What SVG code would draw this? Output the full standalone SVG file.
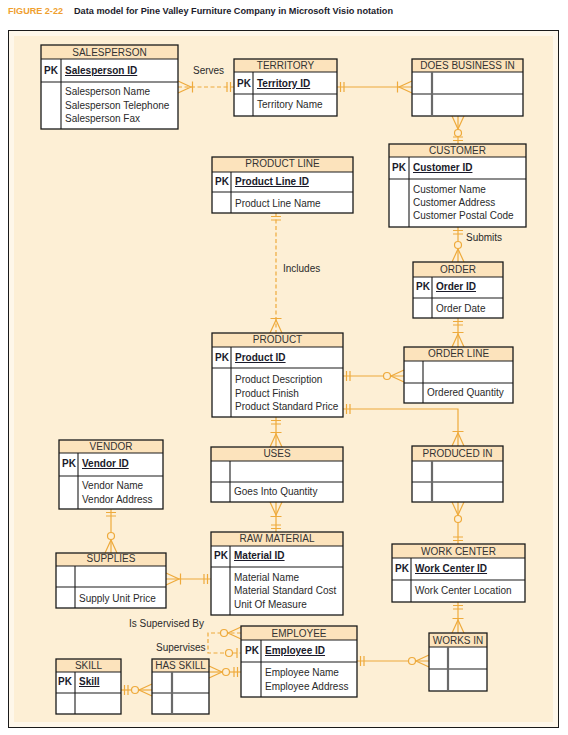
<svg xmlns="http://www.w3.org/2000/svg" width="568" height="735" viewBox="0 0 568 735">
<style>
.hd{fill:#FCE3BC}
.bd{fill:#ffffff}
.bx{fill:none;stroke:#1a1a1a;stroke-width:1.3}
.ln{stroke:#1a1a1a;stroke-width:1.1}
.gl{stroke:#6a6a6a;stroke-width:2.2}
.t{font-family:"Liberation Sans",Arial,sans-serif;font-size:10px;fill:#2a2a2a}
.h{text-anchor:middle;fill:#333}
.b{font-weight:bold;fill:#1a1a2a}
.u{text-decoration:underline}
.c{fill:none;stroke:#EEAA3C;stroke-width:1.2}
.d{stroke-dasharray:4 2.5}
.m{fill:none;stroke:#EEAA3C;stroke-width:1.2}
.mc{fill:#FDEFD5;stroke:#EEAA3C;stroke-width:1.2}
</style>
<defs>
<marker id="one2" markerUnits="userSpaceOnUse" orient="auto-start-reverse" refX="0" refY="0" markerWidth="1" markerHeight="1" overflow="visible">
<path class="m" d="M-3.5,-5V5M-7,-5V5"/>
</marker>
<marker id="many1" markerUnits="userSpaceOnUse" orient="auto-start-reverse" refX="0" refY="0" markerWidth="1" markerHeight="1" overflow="visible">
<path class="m" d="M0,-6L-13,0L0,6M-14.5,-5.5V5.5"/>
</marker>
<marker id="many0" markerUnits="userSpaceOnUse" orient="auto-start-reverse" refX="0" refY="0" markerWidth="1" markerHeight="1" overflow="visible">
<path class="m" d="M0,-6L-13,0L0,6"/>
<circle class="mc" cx="-17" cy="0" r="3.5"/>
</marker>
<marker id="one0" markerUnits="userSpaceOnUse" orient="auto-start-reverse" refX="0" refY="0" markerWidth="1" markerHeight="1" overflow="visible">
<path class="m" d="M-4,-5V5"/>
<circle class="mc" cx="-12" cy="0" r="3.5"/>
</marker>
</defs>
<rect x="0" y="0" width="568" height="735" fill="#ffffff"/>
<g id="title">
<text x="8" y="14" font-family="'Liberation Sans',Arial,sans-serif" font-size="8.6" font-weight="bold" fill="#EFA030" textLength="55" lengthAdjust="spacingAndGlyphs">FIGURE 2-22</text>
<text x="74" y="14" font-family="'Liberation Sans',Arial,sans-serif" font-size="8.6" font-weight="bold" fill="#1c1c2c" textLength="319" lengthAdjust="spacingAndGlyphs">Data model for Pine Valley Furniture Company in Microsoft Visio notation</text>
</g>
<rect x="8.5" y="30.5" width="550" height="697" fill="#FEF7EA" stroke="#1a1a1a" stroke-width="1"/>
<rect x="14" y="36" width="539" height="686" fill="#FDEFD5"/>

<g id="connectors">
<path class="c d" d="M178,87H234" marker-start="url(#many1)" marker-end="url(#one2)"/>
<path class="c" d="M337,87H412" marker-start="url(#one2)" marker-end="url(#many1)"/>
<path class="c" d="M458,116V144" marker-start="url(#many0)" marker-end="url(#one2)"/>
<path class="c" d="M458,227V262" marker-start="url(#one2)" marker-end="url(#many0)"/>
<path class="c d" d="M276,213V333" marker-start="url(#one2)" marker-end="url(#many1)"/>
<path class="c" d="M458,318V347" marker-start="url(#one2)" marker-end="url(#many1)"/>
<path class="c" d="M343,376H404" marker-start="url(#one2)" marker-end="url(#many0)"/>
<path class="c" d="M343,409H458V446" marker-start="url(#one2)" marker-end="url(#many1)"/>
<path class="c" d="M276,417V447" marker-start="url(#one2)" marker-end="url(#many1)"/>
<path class="c" d="M276,502V532" marker-start="url(#many1)" marker-end="url(#one2)"/>
<path class="c" d="M111,509V553" marker-start="url(#one2)" marker-end="url(#many0)"/>
<path class="c" d="M166,579H211" marker-start="url(#many1)" marker-end="url(#one2)"/>
<path class="c" d="M458,502V544" marker-start="url(#many0)" marker-end="url(#one2)"/>
<path class="c" d="M458,602V633" marker-start="url(#one2)" marker-end="url(#many1)"/>
<path class="c" d="M357,661H429" marker-start="url(#one2)" marker-end="url(#many0)"/>
<path class="c d" d="M241,633H208V653H241" marker-start="url(#many0)" marker-end="url(#one0)"/>
<path class="c" d="M209,672H241" marker-start="url(#many0)" marker-end="url(#one2)"/>
<path class="c" d="M121,690H152" marker-start="url(#one2)" marker-end="url(#many0)"/>
<text class="t" x="193" y="74">Serves</text>
<text class="t" x="466" y="241">Submits</text>
<text class="t" x="283" y="272">Includes</text>
<text class="t" x="129" y="627">Is Supervised By</text>
<text class="t" x="156" y="651">Supervises</text>
</g>

<g id="salesperson">
<rect class="hd" x="41" y="45" width="137" height="14"/>
<rect class="bd" x="41" y="59" width="137" height="70"/>
<rect class="bx" x="41" y="45" width="137" height="84"/>
<line class="ln" x1="41" y1="59" x2="178" y2="59"/>
<line class="ln" x1="41" y1="82" x2="178" y2="82"/>
<line class="ln" x1="61" y1="59" x2="61" y2="129"/>
<text class="t h" x="109.5" y="56">SALESPERSON</text>
<text class="t b" x="44" y="74">PK</text>
<text class="t b u" x="65" y="74">Salesperson ID</text>
<text class="t" x="65" y="95">Salesperson Name</text>
<text class="t" x="65" y="108.5">Salesperson Telephone</text>
<text class="t" x="65" y="122">Salesperson Fax</text>
</g>

<g id="territory">
<rect class="hd" x="234" y="59" width="103" height="13"/>
<rect class="bd" x="234" y="72" width="103" height="44"/>
<rect class="bx" x="234" y="59" width="103" height="57"/>
<line class="ln" x1="234" y1="72" x2="337" y2="72"/>
<line class="ln" x1="234" y1="94" x2="337" y2="94"/>
<line class="ln" x1="253" y1="72" x2="253" y2="116"/>
<text class="t h" x="285.5" y="69">TERRITORY</text>
<text class="t b" x="237" y="87">PK</text>
<text class="t b u" x="257" y="87">Territory ID</text>
<text class="t" x="257" y="108">Territory Name</text>
</g>

<g id="does-business-in">
<rect class="hd" x="412" y="59" width="111" height="13"/>
<rect class="bd" x="412" y="72" width="111" height="44"/>
<rect class="bx" x="412" y="59" width="111" height="57"/>
<line class="ln" x1="412" y1="72" x2="523" y2="72"/>
<line class="ln" x1="412" y1="94" x2="523" y2="94"/>
<line class="gl" x1="432" y1="72" x2="432" y2="116"/>
<text class="t h" x="467.5" y="69">DOES BUSINESS IN</text>
</g>

<g id="customer">
<rect class="hd" x="389" y="144" width="137" height="13"/>
<rect class="bd" x="389" y="157" width="137" height="70"/>
<rect class="bx" x="389" y="144" width="137" height="83"/>
<line class="ln" x1="389" y1="157" x2="526" y2="157"/>
<line class="ln" x1="389" y1="179" x2="526" y2="179"/>
<line class="ln" x1="409" y1="157" x2="409" y2="227"/>
<text class="t h" x="457.5" y="154">CUSTOMER</text>
<text class="t b" x="392" y="171">PK</text>
<text class="t b u" x="413" y="171">Customer ID</text>
<text class="t" x="413" y="193">Customer Name</text>
<text class="t" x="413" y="206">Customer Address</text>
<text class="t" x="413" y="219">Customer Postal Code</text>
</g>

<g id="product-line">
<rect class="hd" x="212" y="157" width="141" height="15"/>
<rect class="bd" x="212" y="172" width="141" height="41"/>
<rect class="bx" x="212" y="157" width="141" height="56"/>
<line class="ln" x1="212" y1="172" x2="353" y2="172"/>
<line class="ln" x1="212" y1="192" x2="353" y2="192"/>
<line class="ln" x1="231" y1="172" x2="231" y2="213"/>
<text class="t h" x="282.5" y="167">PRODUCT LINE</text>
<text class="t b" x="215" y="185">PK</text>
<text class="t b u" x="235" y="185">Product Line ID</text>
<text class="t" x="235" y="207">Product Line Name</text>
</g>

<g id="order">
<rect class="hd" x="413" y="262" width="90" height="15"/>
<rect class="bd" x="413" y="277" width="90" height="41"/>
<rect class="bx" x="413" y="262" width="90" height="56"/>
<line class="ln" x1="413" y1="277" x2="503" y2="277"/>
<line class="ln" x1="413" y1="298" x2="503" y2="298"/>
<line class="ln" x1="432" y1="277" x2="432" y2="318"/>
<text class="t h" x="458" y="273">ORDER</text>
<text class="t b" x="416" y="290">PK</text>
<text class="t b u" x="436" y="290">Order ID</text>
<text class="t" x="436" y="312">Order Date</text>
</g>

<g id="product">
<rect class="hd" x="212" y="333" width="131" height="14"/>
<rect class="bd" x="212" y="347" width="131" height="70"/>
<rect class="bx" x="212" y="333" width="131" height="84"/>
<line class="ln" x1="212" y1="347" x2="343" y2="347"/>
<line class="ln" x1="212" y1="368" x2="343" y2="368"/>
<line class="ln" x1="231" y1="347" x2="231" y2="417"/>
<text class="t h" x="277.5" y="343">PRODUCT</text>
<text class="t b" x="215" y="361">PK</text>
<text class="t b u" x="235" y="361">Product ID</text>
<text class="t" x="235" y="383">Product Description</text>
<text class="t" x="235" y="397">Product Finish</text>
<text class="t" x="235" y="410">Product Standard Price</text>
</g>

<g id="order-line">
<rect class="hd" x="404" y="347" width="109" height="14"/>
<rect class="bd" x="404" y="361" width="109" height="42"/>
<rect class="bx" x="404" y="347" width="109" height="56"/>
<line class="ln" x1="404" y1="361" x2="513" y2="361"/>
<line class="ln" x1="404" y1="383" x2="513" y2="383"/>
<line class="ln" x1="423" y1="361" x2="423" y2="403"/>
<text class="t h" x="458.5" y="357">ORDER LINE</text>
<text class="t" x="427" y="396">Ordered Quantity</text>
</g>

<g id="vendor">
<rect class="hd" x="59" y="440" width="104" height="13"/>
<rect class="bd" x="59" y="453" width="104" height="56"/>
<rect class="bx" x="59" y="440" width="104" height="69"/>
<line class="ln" x1="59" y1="453" x2="163" y2="453"/>
<line class="ln" x1="59" y1="476" x2="163" y2="476"/>
<line class="ln" x1="78" y1="453" x2="78" y2="509"/>
<text class="t h" x="111" y="450">VENDOR</text>
<text class="t b" x="62" y="467">PK</text>
<text class="t b u" x="82" y="467">Vendor ID</text>
<text class="t" x="82" y="489">Vendor Name</text>
<text class="t" x="82" y="503">Vendor Address</text>
</g>

<g id="uses">
<rect class="hd" x="211" y="447" width="132" height="14"/>
<rect class="bd" x="211" y="461" width="132" height="41"/>
<rect class="bx" x="211" y="447" width="132" height="55"/>
<line class="ln" x1="211" y1="461" x2="343" y2="461"/>
<line class="ln" x1="211" y1="482" x2="343" y2="482"/>
<line class="ln" x1="230" y1="461" x2="230" y2="502"/>
<text class="t h" x="277" y="457">USES</text>
<text class="t" x="234" y="495">Goes Into Quantity</text>
</g>

<g id="produced-in">
<rect class="hd" x="412" y="446" width="91" height="15"/>
<rect class="bd" x="412" y="461" width="91" height="41"/>
<rect class="bx" x="412" y="446" width="91" height="56"/>
<line class="ln" x1="412" y1="461" x2="503" y2="461"/>
<line class="ln" x1="412" y1="482" x2="503" y2="482"/>
<line class="gl" x1="432" y1="461" x2="432" y2="502"/>
<text class="t h" x="457.5" y="457">PRODUCED IN</text>
</g>

<g id="supplies">
<rect class="hd" x="56" y="553" width="110" height="13"/>
<rect class="bd" x="56" y="566" width="110" height="42"/>
<rect class="bx" x="56" y="553" width="110" height="55"/>
<line class="ln" x1="56" y1="566" x2="166" y2="566"/>
<line class="ln" x1="56" y1="587" x2="166" y2="587"/>
<line class="ln" x1="75" y1="566" x2="75" y2="608"/>
<text class="t h" x="111" y="562">SUPPLIES</text>
<text class="t" x="79" y="602">Supply Unit Price</text>
</g>

<g id="raw-material">
<rect class="hd" x="211" y="532" width="132" height="14"/>
<rect class="bd" x="211" y="546" width="132" height="69"/>
<rect class="bx" x="211" y="532" width="132" height="83"/>
<line class="ln" x1="211" y1="546" x2="343" y2="546"/>
<line class="ln" x1="211" y1="567" x2="343" y2="567"/>
<line class="ln" x1="230" y1="546" x2="230" y2="615"/>
<text class="t h" x="277" y="542">RAW MATERIAL</text>
<text class="t b" x="214" y="559">PK</text>
<text class="t b u" x="234" y="559">Material ID</text>
<text class="t" x="234" y="581">Material Name</text>
<text class="t" x="234" y="594">Material Standard Cost</text>
<text class="t" x="234" y="608">Unit Of Measure</text>
</g>

<g id="work-center">
<rect class="hd" x="392" y="544" width="133" height="14"/>
<rect class="bd" x="392" y="558" width="133" height="44"/>
<rect class="bx" x="392" y="544" width="133" height="58"/>
<line class="ln" x1="392" y1="558" x2="525" y2="558"/>
<line class="ln" x1="392" y1="580" x2="525" y2="580"/>
<line class="ln" x1="411" y1="558" x2="411" y2="602"/>
<text class="t h" x="458.5" y="555">WORK CENTER</text>
<text class="t b" x="395" y="572">PK</text>
<text class="t b u" x="415" y="572">Work Center ID</text>
<text class="t" x="415" y="594">Work Center Location</text>
</g>

<g id="employee">
<rect class="hd" x="241" y="626" width="116" height="14"/>
<rect class="bd" x="241" y="640" width="116" height="57"/>
<rect class="bx" x="241" y="626" width="116" height="71"/>
<line class="ln" x1="241" y1="640" x2="357" y2="640"/>
<line class="ln" x1="241" y1="662" x2="357" y2="662"/>
<line class="ln" x1="261" y1="640" x2="261" y2="697"/>
<text class="t h" x="299" y="637">EMPLOYEE</text>
<text class="t b" x="245" y="654">PK</text>
<text class="t b u" x="265" y="654">Employee ID</text>
<text class="t" x="265" y="676">Employee Name</text>
<text class="t" x="265" y="690">Employee Address</text>
</g>

<g id="works-in">
<rect class="hd" x="429" y="633" width="58" height="14"/>
<rect class="bd" x="429" y="647" width="58" height="44"/>
<rect class="bx" x="429" y="633" width="58" height="58"/>
<line class="ln" x1="429" y1="647" x2="487" y2="647"/>
<line class="ln" x1="429" y1="669" x2="487" y2="669"/>
<line class="gl" x1="448" y1="647" x2="448" y2="691"/>
<text class="t h" x="458" y="644">WORKS IN</text>
</g>

<g id="has-skill">
<rect class="hd" x="152" y="659" width="57" height="13"/>
<rect class="bd" x="152" y="672" width="57" height="42"/>
<rect class="bx" x="152" y="659" width="57" height="55"/>
<line class="ln" x1="152" y1="672" x2="209" y2="672"/>
<line class="ln" x1="152" y1="693" x2="209" y2="693"/>
<line class="gl" x1="172" y1="672" x2="172" y2="714"/>
<text class="t h" x="180.5" y="669">HAS SKILL</text>
</g>

<g id="skill">
<rect class="hd" x="56" y="659" width="65" height="13"/>
<rect class="bd" x="56" y="672" width="65" height="42"/>
<rect class="bx" x="56" y="659" width="65" height="55"/>
<line class="ln" x1="56" y1="672" x2="121" y2="672"/>
<line class="ln" x1="56" y1="693" x2="121" y2="693"/>
<line class="ln" x1="75" y1="672" x2="75" y2="714"/>
<text class="t h" x="88.5" y="669">SKILL</text>
<text class="t b" x="58" y="685">PK</text>
<text class="t b u" x="79" y="685">Skill</text>
</g>
</svg>
